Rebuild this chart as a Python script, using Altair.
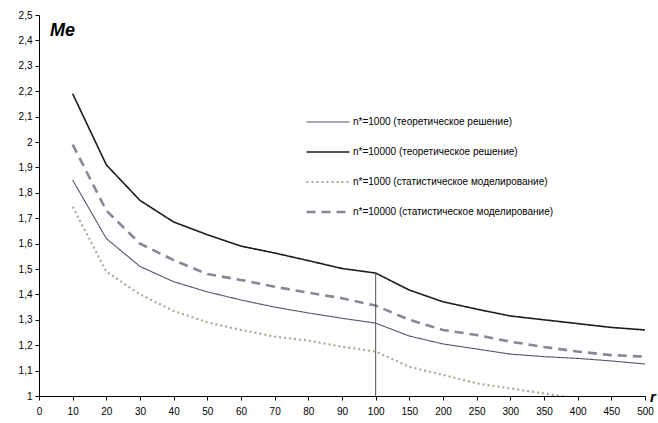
import altair as alt
import pandas as pd

# r values (category axis: 10..100 step 10, then 150..500 step 50)
r_ticks = ["0", "10", "20", "30", "40", "50", "60", "70", "80", "90", "100",
           "150", "200", "250", "300", "350", "400", "450", "500"]
r_data = r_ticks[1:]

theory_1000 = [1.85, 1.62, 1.51, 1.45, 1.41, 1.378, 1.35, 1.327, 1.306, 1.287,
               1.236, 1.205, 1.185, 1.165, 1.155, 1.148, 1.138, 1.126]
theory_10000 = [2.19, 1.91, 1.77, 1.685, 1.635, 1.59, 1.563, 1.533, 1.502, 1.484,
                1.417, 1.371, 1.342, 1.315, 1.30, 1.285, 1.27, 1.26]
stat_1000 = [1.745, 1.49, 1.40, 1.335, 1.29, 1.26, 1.234, 1.218, 1.194, 1.175,
             1.115, 1.083, 1.05, 1.03, 1.01, 0.99, None, None]
stat_10000 = [1.99, 1.73, 1.60, 1.535, 1.48, 1.457, 1.43, 1.407, 1.385, 1.356,
              1.30, 1.26, 1.24, 1.214, 1.193, 1.175, 1.161, 1.155]

series_names = [
    "n*=1000 (теоретическое решение)",
    "n*=10000 (теоретическое решение)",
    "n*=1000 (статистическое моделирование)",
    "n*=10000 (статистическое моделирование)",
]
series_values = [theory_1000, theory_10000, stat_1000, stat_10000]

rows = []
for name, vals in zip(series_names, series_values):
    for r, v in zip(r_data, vals):
        if v is not None:
            rows.append({"r": r, "Me": v, "series": name})
df = pd.DataFrame(rows)

# vertical marker at r=100, from the axis floor up to the thick curve
marker = pd.DataFrame({"r": ["100"], "Me": [1.0], "y1": [theory_10000[r_data.index("100")]]})

colors = ["#55556a", "#1d1d16", "#a8a894", "#878797"]
dashes = [[1, 0], [1, 0], [2, 3], [9, 6]]
widths = [1.1, 2.6, 0.9, 2.0]

legend = alt.Legend(
    title=None, orient="none", legendX=266, legendY=99,
    symbolType="stroke", symbolSize=1850, clipHeight=16, rowPadding=14,
    labelFontSize=10, labelFont="Liberation Sans", labelColor="#000",
    labelOffset=2, labelLimit=400,
)

x_scale = alt.Scale(domain=r_ticks, type="point", padding=0)
y_scale = alt.Scale(domain=[1, 2.5], nice=False, zero=False)

x_axis = alt.Axis(title=None, labelAngle=0, labelFontSize=10, labelColor="#000",
                  domainColor="#000", tickColor="#000", tickSize=4,
                  labelPadding=6, labelFont="Liberation Sans", grid=False)
y_axis = alt.Axis(title=None, values=[round(1 + i / 10, 1) for i in range(16)],
                  labelExpr="replace(format(datum.value, '.1~f'), '.', ',')",
                  labelOverlap=False, labelFontSize=10, labelColor="#000",
                  labelFont="Liberation Sans", domainColor="#000",
                  tickColor="#000", tickSize=4, labelPadding=3, grid=False)

lines = alt.Chart(df).mark_line(clip=True).encode(
    x=alt.X("r:O", scale=x_scale, axis=x_axis),
    y=alt.Y("Me:Q", scale=y_scale, axis=y_axis),
    color=alt.Color("series:N", scale=alt.Scale(domain=series_names, range=colors),
                    legend=legend),
    strokeDash=alt.StrokeDash("series:N", scale=alt.Scale(domain=series_names, range=dashes),
                              legend=legend),
    strokeWidth=alt.StrokeWidth("series:N", scale=alt.Scale(domain=series_names, range=widths),
                                legend=legend),
)

rule = alt.Chart(marker).mark_rule(color="#555", strokeWidth=1).encode(
    x=alt.X("r:O", scale=x_scale, axis=x_axis),
    y=alt.Y("Me:Q", scale=y_scale, axis=y_axis),
    y2="y1:Q",
)

me_label = alt.Chart(pd.DataFrame({"t": ["Me"]})).mark_text(
    font="Liberation Sans", fontSize=18, fontStyle="italic", fontWeight="bold",
    align="left", baseline="middle", color="#000"
).encode(text="t:N", x=alt.value(11), y=alt.value(16))

r_label = alt.Chart(pd.DataFrame({"t": ["r"]})).mark_text(
    font="Liberation Sans", fontSize=15, fontStyle="italic", fontWeight="bold",
    align="left", baseline="middle", color="#000"
).encode(text="t:N", x=alt.value(611), y=alt.value(382))

chart = alt.layer(lines, rule, me_label, r_label).properties(
    width=606, height=381,
    background="white",
    autosize=alt.AutoSizeParams(type="none"),
    padding={"left": 39, "top": 15, "right": 13, "bottom": 27},
).configure_view(stroke=None)

chart.save("out.html", embed_options={"renderer": "svg", "actions": False})
